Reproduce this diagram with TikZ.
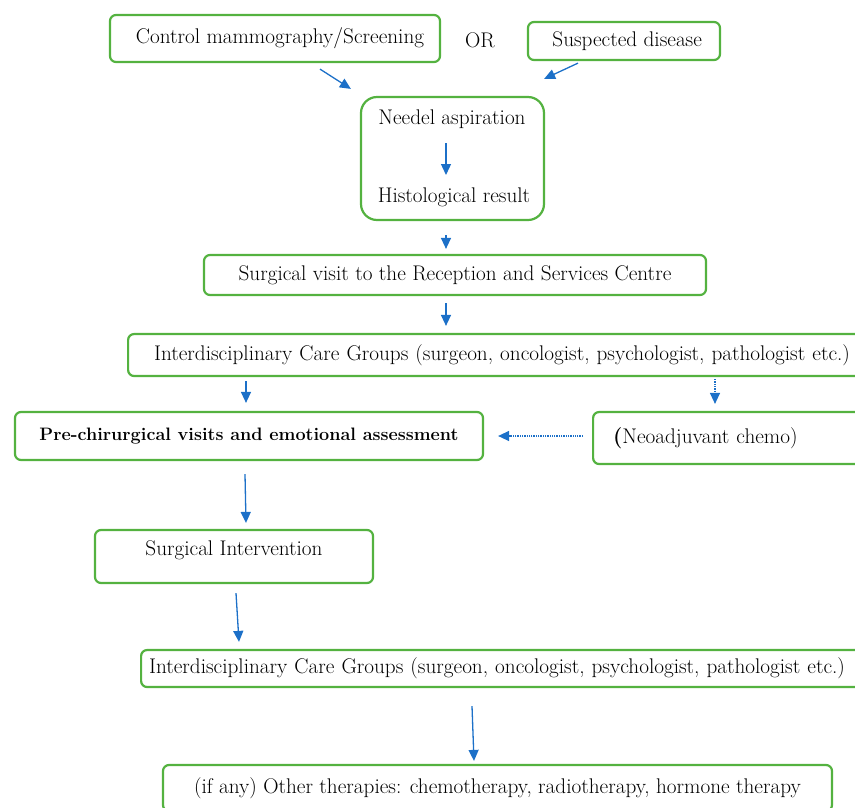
\documentclass[tikz,border=0pt]{standalone}
\usepackage{tikz}
\usetikzlibrary{arrows.meta,calc}
\definecolor{vert}{RGB}{84,178,64}
\definecolor{bleu}{RGB}{28,112,200}

\begin{document}
\begin{tikzpicture}[x=1pt,y=-1pt]
\tikzset{boite/.style={draw=vert, line width=2.2pt, rounded corners=6pt, inner sep=0pt, font=\fontsize{21.2}{24}\selectfont},
texte/.style={inner sep=1pt, font=\fontsize{21.2}{24}\selectfont},
fleche/.style={draw=bleu, line width=1.3pt, -{Triangle[length=11pt,width=10pt]}, bleu}}
\useasboundingbox (0,0) rectangle (855,807);
\clip (0,0) rectangle (855,807);
\node[boite, minimum width=330, minimum height=47] (C1) at (275,38.5) {\hspace*{10pt}Control mammography/Screening};
\node[texte] (OU) at (480,40) {OR};
\node[boite, minimum width=192, minimum height=38] (C2) at (624,41) {~Suspected disease};
\node[boite, rounded corners=16pt, minimum width=183, minimum height=123] (B) at (452.5,158.5) {};
\node[texte] (V1) at (452,119) {Needel aspiration};
\node[texte] (V2) at (454,197) {Histological result};
\node[boite, minimum width=502, minimum height=40] (S) at (455,275) {Surgical visit to the Reception and Services Centre};
\node[boite, anchor=west, inner xsep=26pt, text width=740pt, align=left, minimum height=42] (I1) at (127,355) {Interdisciplinary Care Groups (surgeon, oncologist, psychologist, pathologist etc.)};
\node[boite, minimum width=468, minimum height=48, font=\fontsize{18}{22}\selectfont] (P) at (249,436) {\textbf{Pre-chirurgical visits and emotional assessment}};
\node[boite, anchor=west, inner xsep=20pt, text width=250pt, align=left, minimum height=52] (N) at (592,438) {\textbf{(}Neoadjuvant chemo)};
\node[boite, minimum width=278, minimum height=53, text depth=16pt] (SI) at (234,556.5) {Surgical Intervention};
\node[boite, anchor=west, inner xsep=8pt, text width=740pt, align=left, minimum height=37] (I2) at (140,668.5) {Interdisciplinary Care Groups (surgeon, oncologist, psychologist, pathologist etc.)};
\node[boite, minimum width=669, minimum height=46] (O) at (497.5,788) {(if any) Other therapies: chemotherapy, radiotherapy, hormone therapy};
% fleches
\draw[fleche] ($(C1.south)+(45,6)$) -- ($(B.north west)+(-9,-7)$);
\draw[fleche] ($(C2.south)+(-46,2)$) -- ($(B.north east)+(-1,-17)$);
\draw[fleche] ($(V1)+(-6,24)$) -- ($(V2)+(-8,-22)$);
\draw[fleche] ($(B.south)+(-6.5,14)$) -- ($(S.north)+(-9,-5)$);
\draw[fleche] ($(S.south)+(-9,7)$) -- ($(I1.north west)+(319,-7)$);
\draw[fleche] ($(I1.south west)+(119,4)$) -- ($(P.north)+(-3,-8)$);
\draw[fleche, densely dotted] ($(I1.south west)+(588,2)$) -- ($(N.north west)+(123,-7)$);
\draw[fleche, densely dotted] ($(N.west)+(-9,-2)$) -- ($(P.east)+(14,0)$);
\draw[fleche] ($(P.south)+(-4,13)$) -- ($(SI.north)+(12,-6)$);
\draw[fleche] ($(SI.south)+(2,9)$) -- ($(I2.north west)+(99,-7)$);
\draw[fleche] ($(I2.south west)+(332,18)$) -- ($(O.north)+(-23.5,-3)$);
\end{tikzpicture}
\end{document}
